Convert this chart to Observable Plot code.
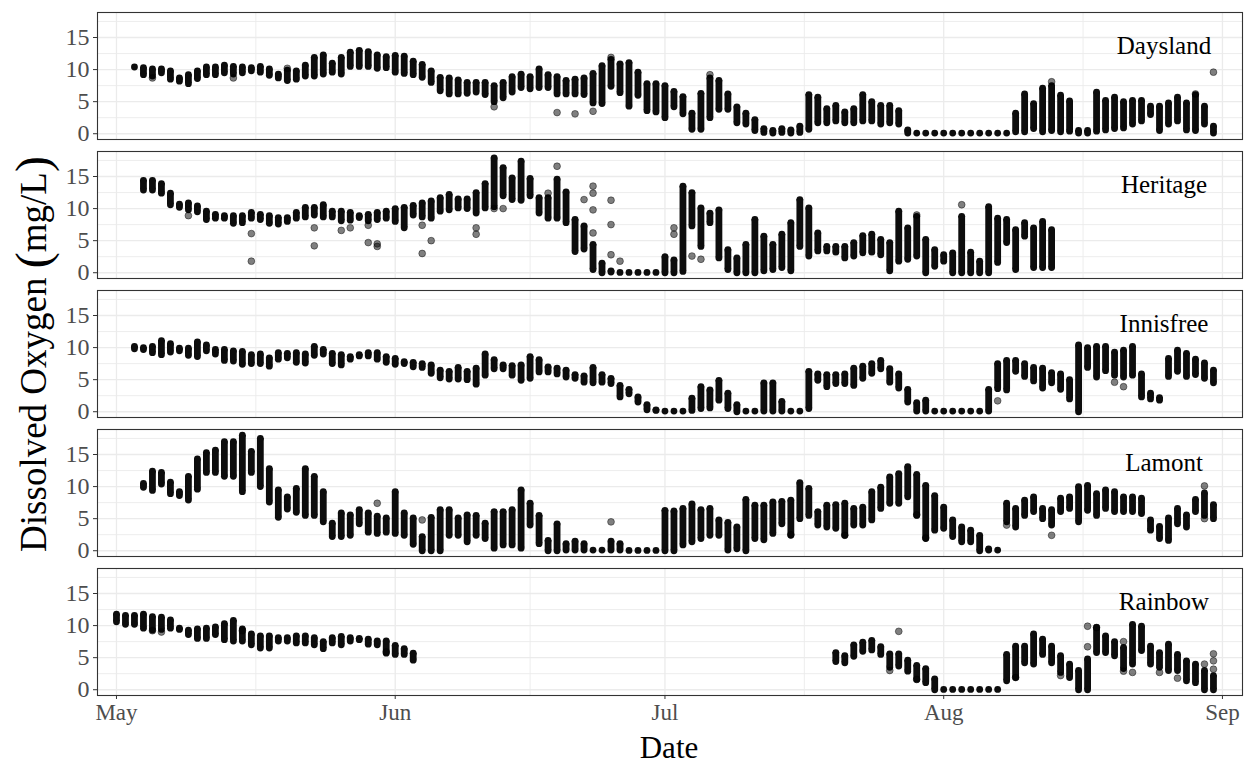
<!DOCTYPE html>
<html><head><meta charset="utf-8">
<script src="https://cdn.jsdelivr.net/npm/d3@7"></script>
<script src="https://cdn.jsdelivr.net/npm/@observablehq/plot@0.6"></script>
<style>body{margin:0;background:#fff}</style>
</head><body><div id="chart"></div>
<script>
const sites = ["Daysland","Heritage","Innisfree","Lamont","Rainbow"];
const monthStarts = ["2019-05-01","2019-06-01","2019-07-01","2019-08-01","2019-09-01"];
const monthLabels = ["May","Jun","Jul","Aug","Sep"];
const minorDates = ["2019-05-16T12:00Z","2019-06-16T00:00Z","2019-07-16T12:00Z","2019-08-16T12:00Z"];
const yTicks = [0,5,10,15];
const yMinor = [2.5,7.5,12.5,17.5];
const labelDay = 116.5;
const labelValue = 13.6;

// [day since May 1, daily low, daily high]
const dayslandRanges = [[2,10.4,10.4],[3,9.2,10.3],[4,9.0,10.1],[5,9.5,10.1],[6,8.5,9.8],[7,8.2,8.7],[8,7.8,9.2],[9,8.6,9.8],[10,9.2,10.4],[11,9.2,10.4],[12,9.5,10.7],[13,9.3,10.5],[14,9.5,10.4],[15,9.8,10.3],[16,9.6,10.5],[17,9.1,10.1],[18,8.7,9.3],[19,8.3,9.9],[20,8.5,9.8],[21,9.0,10.7],[22,9.0,11.9],[23,9.3,12.3],[24,9.6,11.0],[25,9.3,11.9],[26,10.5,12.7],[27,10.5,13.0],[28,10.5,12.8],[29,10.2,12.3],[30,10.3,12.0],[31,9.6,12.2],[32,9.4,12.1],[33,9.2,11.3],[34,8.8,10.8],[35,8.0,9.8],[36,6.7,8.8],[37,6.2,8.7],[38,6.2,8.4],[39,6.3,8.0],[40,6.5,8.0],[41,6.1,8.0],[42,5.0,7.5],[43,5.6,8.0],[44,6.5,8.9],[45,7.2,9.3],[46,7.0,8.9],[47,7.2,10.1],[48,7.2,9.2],[49,6.2,8.9],[50,6.2,8.3],[51,6.2,8.5],[52,6.1,8.7],[53,4.8,9.4],[54,4.7,10.6],[55,7.4,11.6],[56,6.4,10.9],[57,4.3,11.1],[58,6.0,9.6],[59,3.6,7.8],[60,3.4,7.8],[61,2.5,7.5],[62,4.2,6.6],[63,3.1,5.8],[64,0.7,3.2],[65,0.7,6.3],[66,2.5,8.7],[67,3.8,8.3],[68,3.8,6.2],[69,1.7,4.2],[70,1.5,3.2],[71,0.5,2.2],[72,0.2,0.8],[73,0.1,0.5],[74,0.2,0.8],[75,0.1,0.6],[76,0.2,1.2],[77,0.7,6.1],[78,1.7,5.7],[79,1.7,3.9],[80,2.0,4.4],[81,1.7,3.4],[82,1.7,3.9],[83,2.0,6.1],[84,2.0,5.0],[85,1.5,4.4],[86,1.7,4.4],[87,1.5,3.6],[88,0.1,0.6],[89,0.1,0.1],[90,0.1,0.1],[91,0.1,0.1],[92,0.1,0.1],[93,0.1,0.1],[94,0.1,0.1],[95,0.1,0.1],[96,0.1,0.1],[97,0.1,0.1],[98,0.1,0.1],[99,0.1,0.1],[100,0.3,3.2],[101,0.3,6.2],[102,0.8,4.7],[103,0.3,7.1],[104,0.5,7.5],[105,0.3,6.0],[106,0.4,5.1],[107,0.1,0.5],[108,0.1,0.5],[109,0.4,6.5],[110,0.6,5.2],[111,0.8,5.7],[112,0.9,5.0],[113,1.5,5.2],[114,2.0,5.2],[115,3.0,4.3],[116,0.5,4.3],[117,1.5,4.8],[118,2.0,5.7],[119,0.6,4.8],[120,0.5,6.1],[121,1.5,4.3],[122,0.1,1.2]];
const dayslandOutliers = [[4,8.7],[13,8.7],[19,10.2],[42,4.2],[49,3.3],[51,3.1],[53,3.5],[55,11.9],[66,9.2],[104,8.1],[120,6.2],[122,9.6]];

const heritageRanges = [[3,12.9,14.4],[4,12.9,14.4],[5,12.4,13.9],[6,10.6,12.4],[7,10.2,10.7],[8,9.8,10.9],[9,9.5,10.4],[10,8.3,9.6],[11,8.5,9.1],[12,8.5,8.9],[13,7.7,8.9],[14,7.8,8.9],[15,8.5,9.4],[16,8.3,9.1],[17,7.7,8.9],[18,7.6,8.6],[19,8.0,8.6],[20,8.5,9.4],[21,8.7,10.2],[22,9.0,10.2],[23,8.7,10.6],[24,8.7,9.6],[25,8.1,9.6],[26,8.2,9.4],[27,8.6,8.9],[28,8.1,9.1],[29,8.3,9.4],[30,8.5,9.6],[31,8.0,10.0],[32,7.0,10.2],[33,9.0,10.5],[34,8.7,10.9],[35,8.5,11.2],[36,9.6,11.7],[37,9.8,12.2],[38,10.1,11.5],[39,10.0,11.5],[40,9.3,12.5],[41,10.1,13.9],[42,10.3,17.9],[43,12.0,16.4],[44,11.4,14.8],[45,11.3,17.4],[46,12.0,14.7],[47,9.3,11.7],[48,8.5,11.7],[49,8.5,14.6],[50,7.8,12.6],[51,3.3,8.3],[52,3.7,7.3],[53,0.5,4.4],[54,0.0,1.5],[55,0.1,0.3],[56,0.05,0.05],[57,0.05,0.05],[58,0.05,0.05],[59,0.05,0.05],[60,0.05,0.05],[61,0.0,2.5],[62,0.0,2.0],[63,0.2,13.5],[64,7.3,12.5],[65,4.1,10.1],[66,7.8,9.3],[67,2.3,9.8],[68,0.5,3.6],[69,0.0,2.3],[70,0.0,4.4],[71,0.0,8.3],[72,0.3,5.7],[73,0.5,4.4],[74,0.8,6.0],[75,0.3,7.8],[76,4.1,11.4],[77,2.6,10.1],[78,3.4,6.2],[79,3.4,4.1],[80,3.2,4.1],[81,2.3,4.1],[82,2.6,4.7],[83,3.1,5.8],[84,3.2,6.0],[85,2.8,5.2],[86,0.3,4.7],[87,1.8,9.6],[88,2.1,7.0],[89,2.6,8.8],[90,0.0,5.2],[91,1.0,3.6],[92,1.8,2.8],[93,0.0,3.1],[94,0.0,8.8],[95,0.0,3.2],[96,0.0,1.8],[97,0.0,10.3],[98,1.6,8.5],[99,4.7,8.3],[100,0.5,6.7],[101,5.7,7.8],[102,0.8,7.0],[103,0.8,8.0],[104,0.8,6.7]];
const heritageOutliers = [[8,8.9],[15,6.1],[15,1.8],[22,7.0],[22,4.2],[25,6.6],[26,7.0],[28,7.4],[28,4.7],[29,4.5],[29,4.1],[34,7.4],[34,3.0],[35,5.0],[40,7.0],[40,6.0],[42,10.0],[43,10.0],[48,12.4],[49,16.6],[52,11.4],[53,13.5],[53,12.4],[53,9.8],[53,6.2],[55,11.3],[55,7.5],[55,2.8],[56,1.8],[62,7.0],[62,6.0],[64,2.6],[65,2.1],[89,9.0],[94,10.6]];

const innisfreeRanges = [[2,9.8,10.2],[3,9.7,10.0],[4,9.2,10.2],[5,8.9,11.1],[6,9.3,10.6],[7,9.5,9.9],[8,8.8,9.9],[9,8.6,10.9],[10,9.5,10.4],[11,9.0,9.7],[12,8.0,9.7],[13,7.9,9.5],[14,7.4,9.4],[15,7.5,8.9],[16,7.5,9.0],[17,7.1,8.4],[18,8.2,9.2],[19,8.4,9.1],[20,7.7,9.2],[21,7.6,9.0],[22,8.8,10.2],[23,9.0,9.7],[24,7.5,9.1],[25,7.3,8.9],[26,8.2,8.6],[27,8.7,8.9],[28,8.7,9.2],[29,8.2,9.2],[30,7.7,8.6],[31,7.4,8.3],[32,7.5,7.8],[33,7.0,7.7],[34,6.9,7.5],[35,6.0,7.3],[36,5.3,6.5],[37,5.1,6.3],[38,5.1,6.9],[39,5.0,6.3],[40,4.3,6.8],[41,5.7,9.0],[42,6.7,8.1],[43,6.7,7.3],[44,5.7,7.2],[45,4.9,7.3],[46,5.2,8.6],[47,6.2,8.1],[48,6.2,7.0],[49,5.9,6.8],[50,5.4,6.5],[51,5.2,5.8],[52,4.6,5.6],[53,4.5,6.9],[54,4.6,5.8],[55,4.4,5.2],[56,2.3,4.1],[57,2.8,3.5],[58,1.5,2.3],[59,0.3,1.1],[60,0.2,0.3],[61,0.1,0.1],[62,0.1,0.1],[63,0.1,0.1],[64,0.2,2.1],[65,0.5,3.9],[66,0.6,3.4],[67,1.8,4.9],[68,0.5,2.9],[69,0.0,1.1],[70,0.1,0.1],[71,0.1,0.1],[72,0.1,4.5],[73,0.1,4.5],[74,0.1,1.6],[75,0.1,0.1],[76,0.1,0.1],[77,0.5,6.3],[78,4.9,5.9],[79,3.9,5.8],[80,4.4,5.8],[81,4.4,5.9],[82,4.1,6.8],[83,5.2,7.1],[84,6.0,7.5],[85,6.7,8.0],[86,4.6,6.7],[87,3.7,5.9],[88,1.5,3.5],[89,0.1,1.4],[90,0.1,1.8],[91,0.1,0.1],[92,0.1,0.1],[93,0.1,0.1],[94,0.1,0.1],[95,0.1,0.1],[96,0.1,0.1],[97,0.1,3.5],[98,3.6,7.5],[99,3.4,8.0],[100,6.3,8.0],[101,5.5,7.5],[102,4.8,6.9],[103,3.7,6.8],[104,4.5,6.1],[105,3.5,5.9],[106,2.0,5.0],[107,0.0,10.4],[108,6.9,10.0],[109,5.4,10.2],[110,6.4,10.2],[111,5.7,9.3],[112,5.4,9.6],[113,5.7,10.2],[114,2.3,5.9],[115,2.0,2.9],[116,1.8,2.2],[117,5.5,8.3],[118,6.3,9.6],[119,5.5,9.1],[120,5.8,8.2],[121,5.2,7.6],[122,4.5,6.5]];
const innisfreeOutliers = [[98,1.7],[111,4.6],[112,3.9]];

const lamontRanges = [[3,9.9,10.5],[4,9.4,12.4],[5,10.4,12.2],[6,8.9,10.7],[7,8.6,9.2],[8,7.9,11.6],[9,9.6,14.3],[10,12.2,15.3],[11,12.2,15.7],[12,11.6,17.0],[13,11.6,17.0],[14,9.2,18.0],[15,12.2,15.5],[16,10.0,17.5],[17,7.6,12.8],[18,5.2,9.5],[19,6.5,8.4],[20,6.0,9.7],[21,5.5,12.8],[22,5.5,11.6],[23,4.5,9.2],[24,2.2,4.3],[25,2.2,5.9],[26,2.4,5.6],[27,4.2,6.4],[28,2.9,5.9],[29,2.7,5.4],[30,2.9,5.1],[31,2.7,9.2],[32,2.4,5.9],[33,1.0,5.1],[34,0.0,2.2],[35,0.0,5.2],[36,0.0,6.4],[37,2.4,6.4],[38,2.4,5.1],[39,1.4,5.6],[40,2.4,5.5],[41,1.9,4.3],[42,0.4,6.1],[43,0.9,6.1],[44,0.9,6.4],[45,0.4,9.5],[46,4.0,7.4],[47,1.1,5.5],[48,0.0,1.6],[49,0.0,4.2],[50,0.1,1.1],[51,0.1,1.5],[52,0.1,1.1],[53,0.1,0.1],[54,0.1,0.1],[55,0.1,1.5],[56,0.1,1.1],[57,0.05,0.05],[58,0.05,0.05],[59,0.05,0.05],[60,0.05,0.05],[61,0.0,6.3],[62,0.0,6.2],[63,0.9,6.6],[64,1.4,7.3],[65,1.9,6.4],[66,2.4,6.6],[67,2.4,4.8],[68,0.1,4.4],[69,0.3,3.7],[70,0.0,8.0],[71,1.9,7.1],[72,1.7,7.1],[73,2.7,7.6],[74,4.2,7.7],[75,2.4,7.9],[76,5.0,10.6],[77,5.5,9.7],[78,4.0,6.1],[79,3.7,7.1],[80,3.5,7.2],[81,2.4,7.4],[82,4.0,6.6],[83,4.0,6.8],[84,4.8,9.2],[85,6.6,9.9],[86,7.4,11.5],[87,7.4,12.0],[88,8.4,13.1],[89,5.5,11.9],[90,1.9,10.2],[91,3.2,8.6],[92,3.5,6.8],[93,2.2,4.8],[94,1.4,3.7],[95,1.4,3.2],[96,0.0,2.4],[97,0.1,0.3],[98,0.1,0.1],[99,4.5,7.4],[100,3.7,6.6],[101,5.5,7.9],[102,6.1,8.4],[103,5.0,6.6],[104,4.0,6.4],[105,6.1,8.2],[106,6.6,8.4],[107,4.5,10.0],[108,6.3,10.2],[109,5.5,8.9],[110,6.6,9.5],[111,6.1,9.2],[112,6.1,8.4],[113,6.1,8.4],[114,5.8,8.2],[115,3.2,4.8],[116,1.9,3.8],[117,1.6,5.1],[118,4.2,6.6],[119,3.7,5.6],[120,6.1,8.0],[121,5.5,9.0],[122,5.0,7.2]];
const lamontOutliers = [[29,7.4],[34,4.8],[55,4.5],[75,2.5],[81,2.4],[89,5.6],[90,2.0],[99,4.0],[104,2.4],[121,10.1],[121,5.0]];

const rainbowRanges = [[0,10.6,11.8],[1,10.2,11.6],[2,10.2,11.6],[3,9.6,11.8],[4,9.3,11.4],[5,9.4,11.3],[6,9.6,10.9],[7,9.4,9.6],[8,8.6,9.3],[9,8.0,9.5],[10,8.0,9.6],[11,8.6,9.8],[12,7.8,10.3],[13,7.6,10.8],[14,7.6,9.5],[15,7.0,8.7],[16,6.5,8.4],[17,6.5,8.4],[18,7.6,8.1],[19,7.6,8.1],[20,7.3,8.4],[21,7.3,8.4],[22,7.0,8.1],[23,6.4,7.5],[24,7.3,8.1],[25,7.0,8.3],[26,7.6,8.1],[27,7.8,8.0],[28,7.1,7.9],[29,7.0,7.6],[30,5.7,7.6],[31,5.5,6.9],[32,5.5,6.4],[33,4.6,5.7],[80,4.4,5.8],[81,4.2,5.3],[82,5.2,7.0],[83,6.0,7.4],[84,6.2,7.7],[85,5.5,6.7],[86,3.5,5.6],[87,3.7,5.6],[88,2.9,4.6],[89,1.6,3.8],[90,1.1,3.3],[91,0.0,1.7],[92,0.05,0.05],[93,0.05,0.05],[94,0.05,0.05],[95,0.05,0.05],[96,0.05,0.05],[97,0.05,0.05],[98,0.05,0.05],[99,1.4,5.5],[100,1.9,6.8],[101,4.2,6.8],[102,4.0,8.7],[103,5.5,7.9],[104,4.2,6.8],[105,2.7,5.3],[106,1.9,4.0],[107,0.0,3.0],[108,0.0,4.8],[109,5.8,9.7],[110,5.8,8.4],[111,5.3,7.5],[112,3.3,6.6],[113,4.0,10.2],[114,6.1,9.9],[115,4.0,6.8],[116,3.5,5.8],[117,3.0,7.1],[118,3.0,5.5],[119,1.4,4.5],[120,1.1,4.0],[121,0.0,3.0],[122,0.0,2.2]];
const rainbowOutliers = [[4,9.2],[5,9.0],[14,9.2],[30,5.9],[86,3.0],[87,9.1],[89,1.6],[100,1.9],[105,2.2],[108,9.9],[108,6.7],[109,9.7],[112,7.5],[112,2.9],[113,2.7],[116,2.7],[118,1.8],[121,4.0],[122,5.6],[122,4.5],[122,3.2]];

const rangeSets = [dayslandRanges, heritageRanges, innisfreeRanges, lamontRanges, rainbowRanges];
const outlierSets = [dayslandOutliers, heritageOutliers, innisfreeOutliers, lamontOutliers, rainbowOutliers];

const base = Date.UTC(2019, 4, 1);
const toDate = d => new Date(base + d * 864e5);
const ranges = [], ends = [], outliers = [];
sites.forEach((site, i) => {
  rangeSets[i].forEach(([d, lo, hi]) => {
    ranges.push({site, date: toDate(d), lo, hi});
    ends.push({site, date: toDate(d), v: lo});
    if (hi !== lo) ends.push({site, date: toDate(d), v: hi});
  });
  outlierSets[i].forEach(([d, v]) => outliers.push({site, date: toDate(d), v}));
});
const monthDates = monthStarts.map(s => new Date(s + "T00:00Z"));
const minorD = minorDates.map(s => new Date(s));
const serif = "'Liberation Serif', 'Times New Roman', serif";

const plot = Plot.plot({
  width: 1257, height: 766,
  marginLeft: 97, marginRight: 15, marginTop: 11, marginBottom: 69,
  style: {fontFamily: serif, background: "white", color: "black"},
  x: {type: "utc", domain: [toDate(-2.11), toDate(125.23)]},
  y: {domain: [-0.9, 18.9]},
  fy: {domain: sites, paddingInner: 0.0835, paddingOuter: 0, axis: null, label: null},
  marks: [
    Plot.gridY(yMinor, {stroke: "#ebebeb", strokeOpacity: 1, strokeWidth: 0.9}),
    Plot.gridY(yTicks, {stroke: "#ebebeb", strokeOpacity: 1, strokeWidth: 1.3}),
    Plot.gridX(minorD, {stroke: "#ebebeb", strokeOpacity: 1, strokeWidth: 0.9}),
    Plot.gridX(monthDates, {stroke: "#ebebeb", strokeOpacity: 1, strokeWidth: 1.3}),
    Plot.ruleX(ranges, {x: "date", y1: "lo", y2: "hi", fy: "site", stroke: "#0d0d0d", strokeWidth: 6.8}),
    Plot.dot(ends, {x: "date", y: "v", fy: "site", r: 3.4, fill: "#0d0d0d"}),
    Plot.dot(outliers, {x: "date", y: "v", fy: "site", r: 3.4, fill: "black", fillOpacity: 0.5, stroke: "black", strokeOpacity: 0.55, strokeWidth: 0.8}),
    Plot.text(sites, {fy: d => d, x: () => toDate(labelDay), y: () => labelValue, text: d => d, fontSize: 25, fontFamily: serif, fill: "black"}),
    Plot.frame({stroke: "#333", strokeWidth: 1.1}),
    Plot.axisY(yTicks, {tickSize: 4, tickPadding: 4, fontSize: 24, fill: "#4d4d4d", stroke: "#333", label: null}),
    Plot.axisX(monthDates, {tickSize: 4, tickPadding: 4, fontSize: 23, fill: "#4d4d4d", stroke: "#333", label: null,
      tickFormat: d => monthLabels[monthDates.findIndex(m => +m === +d)]})
  ]
});
const svg = d3.select(plot);
const yTitle = svg.append("text").attr("transform", "translate(38,354) rotate(-90)")
  .attr("text-anchor", "middle").attr("dominant-baseline", "middle")
  .attr("font-size", 37).attr("fill", "black").attr("font-family", serif);
yTitle.append("tspan").text("Dissolved Oxygen ");
yTitle.append("tspan").attr("font-size", 48).text("(");
yTitle.append("tspan").text("mg/L");
yTitle.append("tspan").attr("font-size", 48).text(")");
svg.append("text").attr("x", 669).attr("y", 758)
  .attr("text-anchor", "middle")
  .attr("font-size", 31).attr("fill", "black").attr("font-family", serif)
  .text("Date");
document.getElementById("chart").appendChild(plot);
</script></body></html>
